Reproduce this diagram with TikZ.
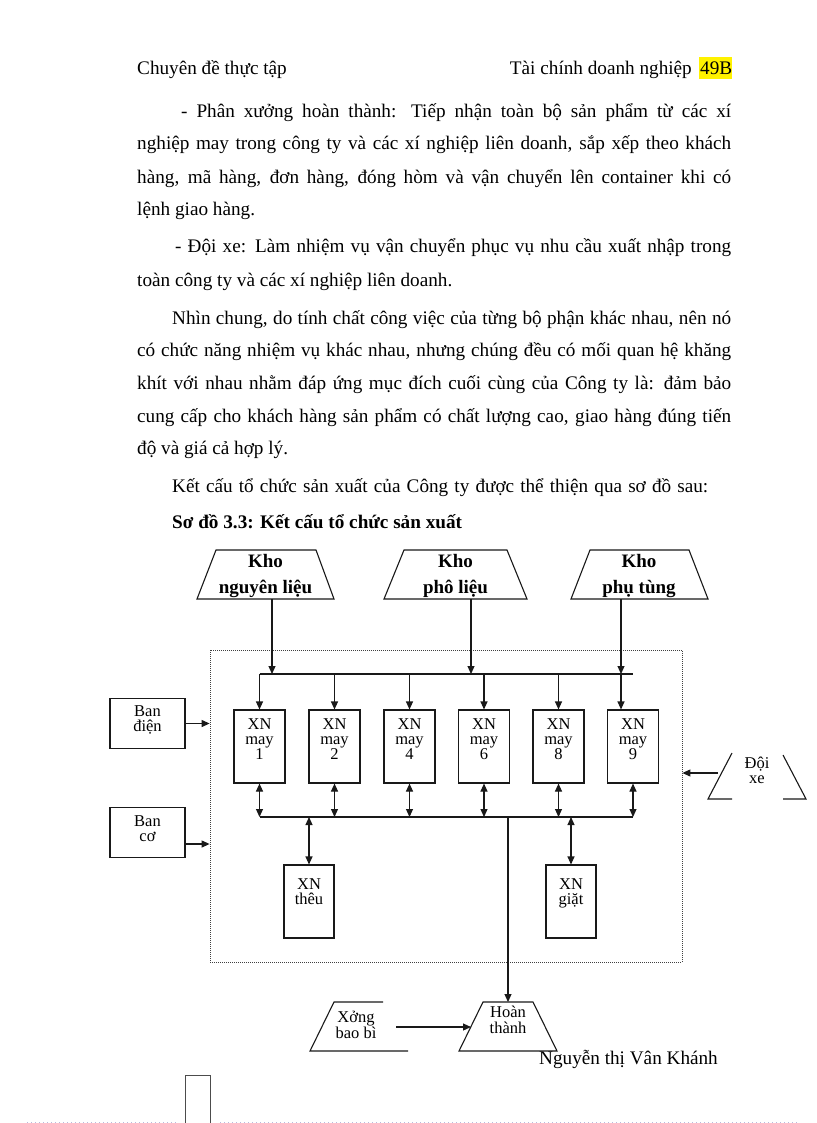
\documentclass[tikz,border=0pt]{standalone}
\usepackage{fontspec}
\setmainfont{Liberation Serif}
\usetikzlibrary{arrows.meta}
\newcommand\jl[4]{\node[txt,anchor=base west] (#1) at (#2,#3) {\makebox[\dimexpr731pt-#2pt\relax][s]{#4}};}
\newcommand\pl[4]{\node[txt,anchor=base west] (#1) at (#2,#3) {#4};}
\begin{document}
\begin{tikzpicture}[x=1pt,y=-1pt,
  txt/.style={inner sep=0pt,font=\fontsize{19.2}{22}\selectfont},
  btxt/.style={inner sep=0pt,align=center,anchor=base,font=\fontsize{16.5}{15}\selectfont},
  khotxt/.style={inner sep=0pt,align=center,anchor=base,font=\bfseries\fontsize{19}{26}\selectfont},
  ln/.style={line width=1.1pt,draw=black!90},
  arr/.style={ln,-{Triangle[length=8pt,width=7pt]}},
  darr/.style={ln,{Triangle[length=8pt,width=7pt]}-{Triangle[length=8pt,width=7pt]}},
  xbox/.style={ln,draw,rectangle,inner sep=0pt,minimum width=51pt,minimum height=73pt},
  sbox/.style={ln,draw,rectangle,inner sep=0pt,minimum width=50pt,minimum height=73pt},
  bbox/.style={ln,draw,rectangle,inner sep=0pt,minimum width=75pt,minimum height=50pt},
  framebox/.style={draw=black!75,line width=0.8pt,dash pattern=on 1pt off 1pt,rectangle,inner sep=0pt,minimum width=472pt,minimum height=312pt}
]
\useasboundingbox (0,0) rectangle (816,1123);
\fill[white] (0,0) rectangle (816,1123);

% header
\pl{h1}{137}{75}{Chuyên đề thực tập}
\node[txt,anchor=base east] (h2) at (692,75) {Tài chính doanh nghiệp};
\fill[yellow] (699,57) rectangle (732,79);
\node[txt,anchor=base west] (h3) at (700,75) {49B};

% body
\jl{l1}{181}{118}{- Phân xưởng hoàn thành: Tiếp nhận toàn bộ sản phẩm từ các xí}
\jl{l2}{137}{150}{nghiệp may trong công ty và các xí nghiệp liên doanh, sắp xếp theo khách}
\jl{l3}{137}{184}{hàng, mã hàng, đơn hàng, đóng hòm và vận chuyển lên container khi có}
\pl{l4}{137}{216}{lệnh giao hàng.}
\jl{l5}{175}{252}{- Đội xe: Làm nhiệm vụ vận chuyển phục vụ nhu cầu xuất nhập trong}
\pl{l6}{137}{286}{toàn công ty và các xí nghiệp liên doanh.}
\jl{l7}{172}{324}{Nhìn chung, do tính chất công việc của từng bộ phận khác nhau, nên nó}
\jl{l8}{137}{356}{có chức năng nhiệm vụ khác nhau, nhưng chúng đều có mối quan hệ khăng}
\jl{l9}{137}{389}{khít với nhau nhằm đáp ứng mục đích cuối cùng của Công ty là: đảm bảo}
\jl{l10}{137}{422}{cung cấp cho khách hàng sản phẩm có chất lượng cao, giao hàng đúng tiến}
\pl{l11}{137}{454}{độ và giá cả hợp lý.}
\pl{l12}{172}{492}{\makebox[536pt][s]{Kết cấu tổ chức sản xuất của Công ty được thể thiện qua sơ đồ sau:}}
\pl{l13}{172}{528}{\bfseries Sơ đồ 3.3: Kết cấu tổ chức sản xuất}

% Kho
\draw[ln] (216,550) -- (316,550) -- (334,599) -- (197,599) -- cycle;
\draw[ln] (404,550) -- (507,550) -- (527,599) -- (384,599) -- cycle;
\draw[ln] (590,550) -- (689,550) -- (708,599) -- (571,599) -- cycle;
\node[khotxt] (k1t) at (265.5,593) {Kho\\nguyên liệu};
\node[khotxt] (k2t) at (455.5,593) {Kho\\phô liệu};
\node[khotxt] (k3t) at (639,593) {Kho\\phụ tùng};
\coordinate (k1b) at (272,599);
\coordinate (k2b) at (471,599);
\coordinate (k3b) at (621,599);

% frame
\node[framebox] (frame) at (446,806) {};

% XN boxes
\node[xbox] (x1) at (259.5,746.5) {};
\node[xbox] (x2) at (334.5,746.5) {};
\node[xbox] (x4) at (409.5,746.5) {};
\node[xbox] (x6) at (484,746.5) {};
\node[xbox] (x8) at (558.5,746.5) {};
\node[xbox] (x9) at (633,746.5) {};
\node[btxt] (t1) at (259.5,759) {XN\\may\\1};
\node[btxt] (t2) at (334.5,759) {XN\\may\\2};
\node[btxt] (t4) at (409.5,759) {XN\\may\\4};
\node[btxt] (t6) at (484,759) {XN\\may\\6};
\node[btxt] (t8) at (558.5,759) {XN\\may\\8};
\node[btxt] (t9) at (633,759) {XN\\may\\9};

\node[sbox] (theu) at (309,901.5) {};
\node[sbox] (giat) at (571,901.5) {};
\node[btxt] (tt) at (309,904) {XN\\thêu};
\node[btxt] (tg) at (571,904) {XN\\giặt};

% bus coordinates
\coordinate (tb1) at (259.5,674);
\coordinate (tb9) at (621,674);
\coordinate (tbe) at (633,674);
\coordinate (tk1) at (272,674);
\coordinate (tk2) at (471,674);
\coordinate (lb1) at (259.5,817);
\coordinate (lbe) at (633,817);
\coordinate (lbt) at (309,817);
\coordinate (lbg) at (571,817);
\coordinate (lbh) at (508,817);

\draw[ln] (tb1) -- (tbe);
\draw[arr] (k1b) -- (tk1);
\draw[arr] (k2b) -- (tk2);
\draw[arr] (k3b) -- (tb9);
\foreach \b in {x1,x2,x4,x6,x8}{
  \draw[arr] (\b.north |- tb1) -- (\b.north);
  \draw[darr] (\b.south) -- (\b.south |- lb1);
}
\draw[arr] (tb9) -- (tb9 |- x9.north);
\draw[darr] (x9.south) -- (x9.south |- lb1);
\draw[ln] (lb1) -- (lbe);
\draw[darr] (lbt) -- (theu.north);
\draw[darr] (lbg) -- (giat.north);

% Ban
\node[bbox] (bandien) at (147.5,723.5) {};
\node[btxt,font=\fontsize{16.5}{14.5}\selectfont] (bdt) at (147.5,731) {Ban\\điện};
\node[bbox] (banco) at (147.5,832.5) {};
\node[btxt,font=\fontsize{16.5}{14.5}\selectfont] (bct) at (147.5,841) {Ban\\cơ};
\draw[arr] (bandien.east) -- (bandien.east -| frame.west);
\coordinate (bc) at (185,844);
\draw[arr] (bc) -- (bc -| frame.west);

% Doi xe
\draw[ln] (732,753) -- (708,799) -- (732,799);
\draw[ln] (783,755) -- (806,799) -- (783,799);
\node[btxt,font=\fontsize{16.5}{15}\selectfont] (dxt) at (757,783) {Đội\\xe};
\coordinate (dx) at (718,773);
\draw[arr] (dx) -- (dx -| frame.east);

% Hoan thanh
\draw[ln] (483,1002) -- (533,1002) -- (557,1051) -- (459,1051) -- cycle;
\node[btxt,font=\fontsize{16.5}{15.5}\selectfont] (ht) at (508,1033) {Hoàn\\thành};
\coordinate (htop) at (508,1002);
\coordinate (hleft) at (471,1027);
\draw[arr] (lbh) -- (htop);

% Xuong bao bi
\draw[ln] (383,1002) -- (334,1002) -- (310,1051) -- (408,1051);
\node[btxt,font=\fontsize{16.5}{15.5}\selectfont] (xbt) at (356,1038) {Xởng\\bao bì};
\coordinate (xb) at (396,1027);
\draw[arr] (xb) -- (hleft);

% footer
\pl{ft}{539}{1064}{Nguyễn thị Vân Khánh}
\draw[line width=1pt,draw=black!70] (185,1125) -- (185,1075) -- (210,1075) -- (210,1125);
\draw[draw={rgb,255:red,185;green,185;blue,220},line width=0.8pt,dash pattern=on 1pt off 3pt] (27,1122) -- (177,1122);
\draw[draw={rgb,255:red,185;green,185;blue,220},line width=0.8pt,dash pattern=on 1pt off 3pt] (220,1122) -- (800,1122);
\end{tikzpicture}
\end{document}
